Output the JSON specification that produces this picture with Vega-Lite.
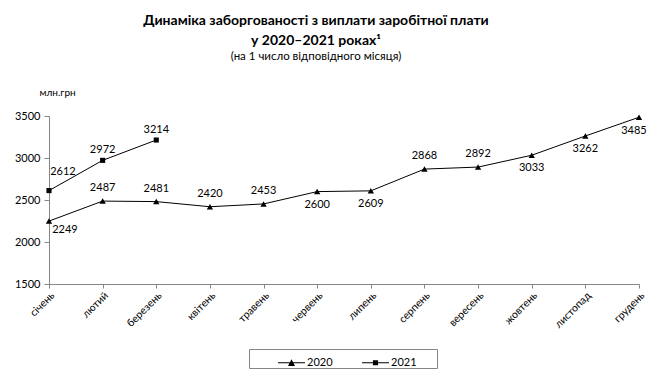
{
  "$schema": "https://vega.github.io/schema/vega-lite/v6.json",
  "width": 590,
  "height": 168,
  "autosize": {"type": "none"},
  "padding": {"left": 49, "top": 116, "right": 28, "bottom": 99},
  "background": "white",
  "config": {
    "view": {"stroke": null},
    "font": "Lato",
    "axis": {"domainColor": "#868686", "tickColor": "#868686", "labelColor": "black", "labelFont": "Lato", "grid": false}
  },
  "title": {
    "text": ["Динаміка заборгованості з виплати заробітної плати", "у 2020–2021 роках¹"],
    "subtitle": "(на 1 число відповідного місяця)",
    "anchor": "middle",
    "frame": "group",
    "dx": -28,
    "offset": 25,
    "font": "Lato",
    "fontSize": 14,
    "fontWeight": "bold",
    "lineHeight": 20,
    "color": "black",
    "subtitleFont": "Lato",
    "subtitleFontSize": 11.5,
    "subtitleColor": "black",
    "subtitlePadding": 3
  },
  "data": {
    "values": [
      {"month": "січень", "year": "2020", "value": 2249},
      {"month": "лютий", "year": "2020", "value": 2487},
      {"month": "березень", "year": "2020", "value": 2481},
      {"month": "квітень", "year": "2020", "value": 2420},
      {"month": "травень", "year": "2020", "value": 2453},
      {"month": "червень", "year": "2020", "value": 2600},
      {"month": "липень", "year": "2020", "value": 2609},
      {"month": "серпень", "year": "2020", "value": 2868},
      {"month": "вересень", "year": "2020", "value": 2892},
      {"month": "жовтень", "year": "2020", "value": 3033},
      {"month": "листопад", "year": "2020", "value": 3262},
      {"month": "грудень", "year": "2020", "value": 3485},
      {"month": "січень", "year": "2021", "value": 2612},
      {"month": "лютий", "year": "2021", "value": 2972},
      {"month": "березень", "year": "2021", "value": 3214}
    ]
  },
  "encoding": {
    "x": {
      "field": "month",
      "type": "ordinal",
      "sort": ["січень", "лютий", "березень", "квітень", "травень", "червень", "липень", "серпень", "вересень", "жовтень", "листопад", "грудень"],
      "scale": {"type": "point", "padding": 0},
      "axis": {"title": null, "labelAngle": -45, "labelFontSize": 10.5, "tickSize": 4, "labelPadding": 2}
    },
    "y": {
      "field": "value",
      "type": "quantitative",
      "scale": {"domain": [1500, 3500], "nice": false, "zero": false},
      "axis": {
        "values": [1500, 2000, 2500, 3000, 3500],
        "format": "d",
        "labelFontSize": 11,
        "tickSize": 5,
        "labelPadding": 4,
        "title": "млн.грн",
        "titleAngle": 0,
        "titleX": 8,
        "titleY": -24,
        "titleAlign": "center",
        "titleBaseline": "middle",
        "titleFontWeight": "normal",
        "titleFontSize": 10,
        "titleFont": "Lato",
        "titleColor": "black"
      }
    }
  },
  "layer": [
    {
      "mark": {"type": "line", "color": "black", "strokeWidth": 1},
      "encoding": {"detail": {"field": "year"}}
    },
    {
      "transform": [{"filter": "datum.year == '2020'"}],
      "mark": {"type": "point", "shape": "triangle-up", "filled": true, "color": "black", "size": 40, "opacity": 1}
    },
    {
      "transform": [{"filter": "datum.year == '2021'"}],
      "mark": {"type": "point", "shape": "square", "filled": true, "color": "black", "size": 26, "opacity": 1}
    },
    {
      "mark": {"type": "point", "filled": true, "opacity": 0, "color": "black"},
      "encoding": {
        "shape": {
          "field": "year",
          "type": "nominal",
          "scale": {"domain": ["2020", "2021"], "range": ["M-1,-0.04L1,-0.04L1,0.04L-1,0.04Z M-0.26,0.24L0,-0.26L0.26,0.24Z", "M-1,-0.04L1,-0.04L1,0.04L-1,0.04Z M-0.19,-0.19L0.19,-0.19L0.19,0.19L-0.19,0.19Z"]},
          "legend": {
            "orient": "none",
            "legendX": 200,
            "legendY": 233,
            "direction": "horizontal",
            "title": ".",
            "titleOrient": "right",
            "titlePadding": 18,
            "titleFontSize": 8,
            "titleColor": "transparent",
            "titleOpacity": 0,
            "padding": 0,
            "symbolSize": 729,
            "symbolOffset": 29,
            "symbolOpacity": 1,
            "symbolFillColor": "black",
            "symbolStrokeColor": "black",
            "symbolStrokeWidth": 0,
            "labelOffset": 2,
            "columnPadding": -11,
            "labelFont": "Lato",
            "labelFontSize": 11,
            "labelColor": "black",
            "strokeColor": "#868686",
            "fillColor": "white"
          }
        }
      }
    },
    {
      "transform": [{"filter": "datum.year == '2020' && indexof(['лютий','березень','квітень','травень','серпень','вересень'], datum.month) >= 0"}],
      "mark": {"type": "text", "dy": -13, "fontSize": 11, "font": "Lato", "color": "black"},
      "encoding": {"text": {"field": "value"}}
    },
    {
      "transform": [{"filter": "datum.year == '2020' && indexof(['червень','липень','жовтень','листопад'], datum.month) >= 0"}],
      "mark": {"type": "text", "dy": 13, "fontSize": 11, "font": "Lato", "color": "black"},
      "encoding": {"text": {"field": "value"}}
    },
    {
      "transform": [{"filter": "datum.year == '2020' && datum.month == 'грудень'"}],
      "mark": {"type": "text", "dy": 14, "dx": -5, "fontSize": 11, "font": "Lato", "color": "black"},
      "encoding": {"text": {"field": "value"}}
    },
    {
      "transform": [{"filter": "datum.year == '2020' && datum.month == 'січень'"}],
      "mark": {"type": "text", "dy": 9, "dx": 16, "fontSize": 11, "font": "Lato", "color": "black"},
      "encoding": {"text": {"field": "value"}}
    },
    {
      "transform": [{"filter": "datum.year == '2021' && datum.month != 'січень'"}],
      "mark": {"type": "text", "dy": -10, "fontSize": 11, "font": "Lato", "color": "black"},
      "encoding": {"text": {"field": "value"}}
    },
    {
      "transform": [{"filter": "datum.year == '2021' && datum.month == 'січень'"}],
      "mark": {"type": "text", "dy": -19, "dx": 14, "fontSize": 11, "font": "Lato", "color": "black"},
      "encoding": {"text": {"field": "value"}}
    }
  ]
}
